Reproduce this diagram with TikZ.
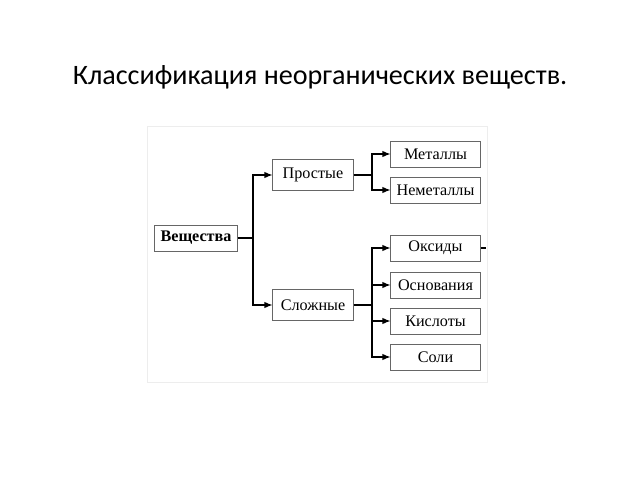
\documentclass[tikz,border=0pt]{standalone}
\usepackage{fontspec}
\setmainfont{Liberation Serif}
\newfontfamily\titlefont{Carlito}
\usetikzlibrary{arrows.meta}

\begin{document}
\begin{tikzpicture}[x=0.025cm, y=-0.025cm,  % one unit = one pixel of the slide
    box/.style={draw=black!60, line width=0.7pt, fill=white, font=\fontsize{11.5}{13}\selectfont, minimum height=0.65cm, inner sep=1pt},
    leaf/.style={box, minimum width=2.225cm},
    mid/.style={box, minimum width=2cm, minimum height=0.76cm},
    line/.style={line width=0.8pt},
    link/.style={line, -{Latex[length=2mm, width=1.6mm]}}]
    % Fix the page size
    \useasboundingbox (0,0) rectangle (640,480);

    % Title
    \node[font=\titlefont\fontsize{20}{24}\selectfont] (title) at (320,77) {Классификация неорганических веществ.};

    % Faint frame round the scheme
    \draw[black!7] (147,126) rectangle (487,382);

    % Root and the two groups
    \node[box, minimum width=2.05cm, font=\fontsize{11.5}{13}\selectfont\bfseries] (root) at (196,238) {Вещества};
    \node[mid] (simple) at (313,175) {Простые};
    \node[mid] (complex) at (313,305) {Сложные};

    % Leaves
    \node[leaf] (met) at (435.5,154) {Металлы};
    \node[leaf] (nonmet) at (435.5,190) {Неметаллы};
    \node[leaf] (oxide) at (435.5,248) {Оксиды};
    \node[leaf] (base) at (435.5,285) {Основания};
    \node[leaf] (acid) at (435.5,321) {Кислоты};
    \node[leaf] (salt) at (435.5,357) {Соли};

    % Branch points
    \coordinate (j1) at (253,238);
    \coordinate (j2) at (372,175);
    \coordinate (j3) at (372,305);
    \coordinate (stub) at (486,248);

    % Connectors
    \draw[line] (root) -- (j1);
    \foreach \t in {simple, complex}
        \draw[link] (j1) |- (\t);

    \draw[line] (simple) -- (j2);
    \foreach \t in {met, nonmet}
        \draw[link] (j2) |- (\t);

    \draw[line] (complex) -- (j3);
    \foreach \t in {oxide, base, acid, salt}
        \draw[link] (j3) |- (\t);

    % Short tail on the right of the first box
    \draw[line] (oxide) -- (stub);
\end{tikzpicture}
\end{document}
